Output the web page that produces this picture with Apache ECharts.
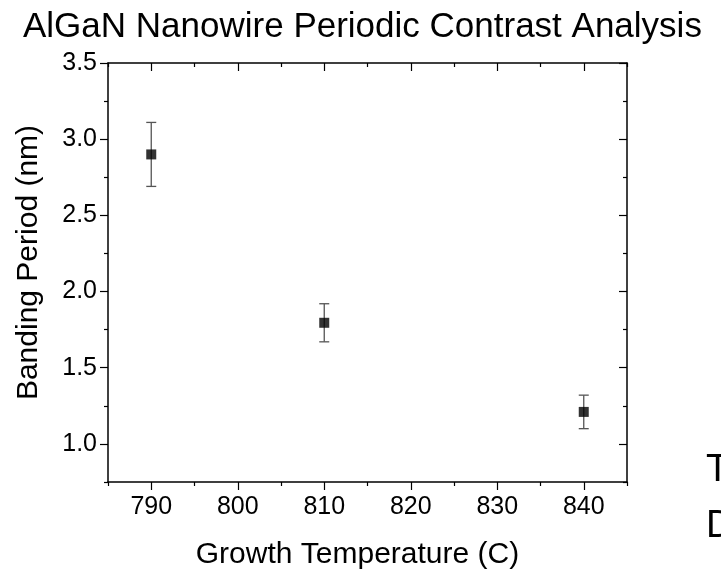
<!DOCTYPE html>
<html><head><meta charset="utf-8">
<script src="https://cdn.jsdelivr.net/npm/echarts@6/dist/echarts.min.js"></script>
<style>html,body{margin:0;padding:0;background:#fff}#c{width:721px;height:584px}</style>
</head><body><div id="c"></div>
<script>
const chartTitle = 'AlGaN Nanowire Periodic Contrast Analysis';
const xName = 'Growth Temperature (C)';
const yName = 'Banding Period (nm)';
const temperatures = [790, 810, 840];
const bandingPeriod = [2.90, 1.795, 1.21];
const errLow = [2.69, 1.67, 1.10];
const errHigh = [3.11, 1.92, 1.32];
const xMajorTicks = [790, 800, 810, 820, 830, 840];
const xMinorTicks = [785, 795, 805, 815, 825, 835, 845];
const yMajorTicks = [1.0, 1.5, 2.0, 2.5, 3.0, 3.5];
const yMinorTicks = [0.75, 1.25, 1.75, 2.25, 2.75, 3.25];
const cutTexts = ['T', 'D'];

const FONT = 'Liberation Sans, Arial, sans-serif';
function axis(dir, pos, ticks, len, inside, withLine, withLabels, extra) {
  const isX = dir === 'x';
  const a = {
    type: 'value', gridIndex: 0, position: pos,
    min: isX ? 785 : 0.75, max: isX ? 845 : 3.5, interval: isX ? 5 : 0.25,
    axisLine: { show: withLine, onZero: false, lineStyle: { color: '#000', width: 1.5 } },
    axisTick: { show: true, inside: inside, length: len, customValues: ticks, lineStyle: { color: '#000', width: 1.2 } },
    splitLine: { show: false },
    axisLabel: withLabels ? {
      show: true, customValues: ticks, margin: isX ? 13 : 11,
      fontFamily: FONT, fontSize: 25, color: '#000',
      formatter: v => isX ? String(v) : v.toFixed(1)
    } : { show: false }
  };
  return Object.assign(a, extra || {});
}

const chart = echarts.init(document.getElementById('c'), null, { renderer: 'canvas' });
chart.setOption({
  animation: false,
  backgroundColor: '#fff',
  title: { text: chartTitle, left: 18, top: 5, textStyle: { fontFamily: FONT, fontSize: 35, fontWeight: 'normal', color: '#000' } },
  grid: { left: 108, top: 63, right: 94, bottom: 102, containLabel: false },
  xAxis: [
    axis('x', 'bottom', xMajorTicks, 8, false, true, true, {
      name: xName, nameLocation: 'middle', nameGap: 58,
      nameTextStyle: { fontFamily: FONT, fontSize: 30, color: '#000', padding: [0, 20, 0, 0] }
    }),
    axis('x', 'bottom', xMinorTicks, 4, false, false, false),
    axis('x', 'top', xMajorTicks, 8, true, true, false),
    axis('x', 'top', xMinorTicks, 4, true, false, false)
  ],
  yAxis: [
    axis('y', 'left', yMajorTicks, 8, false, true, true, {
      name: yName, nameLocation: 'middle', nameGap: 64,
      nameTextStyle: { fontFamily: FONT, fontSize: 30, color: '#000', padding: [0, 0, 0, 20] }
    }),
    axis('y', 'left', yMinorTicks, 4, false, false, false),
    axis('y', 'right', yMajorTicks, 8, true, true, false),
    axis('y', 'right', yMinorTicks, 4, true, false, false)
  ],
  graphic: cutTexts.map((t, i) => ({
    type: 'text', left: 706, top: 452 + i * 56,
    style: { text: t, fontFamily: FONT, fontSize: 38, fill: '#000' }
  })),
  series: [
    {
      type: 'custom', xAxisIndex: 0, yAxisIndex: 0, z: 1,
      data: temperatures.map((t, i) => [t, errLow[i], errHigh[i]]),
      encode: { x: 0, y: [1, 2] },
      renderItem: function (params, api) {
        const x = api.value(0);
        const pLo = api.coord([x, api.value(1)]);
        const pHi = api.coord([x, api.value(2)]);
        const hw = 5;
        const st = { stroke: '#555', lineWidth: 1.3 };
        return {
          type: 'group', children: [
            { type: 'line', shape: { x1: pLo[0], y1: pLo[1], x2: pHi[0], y2: pHi[1] }, style: st },
            { type: 'line', shape: { x1: pLo[0] - hw, y1: pLo[1], x2: pLo[0] + hw, y2: pLo[1] }, style: st },
            { type: 'line', shape: { x1: pHi[0] - hw, y1: pHi[1], x2: pHi[0] + hw, y2: pHi[1] }, style: st }
          ]
        };
      }
    },
    {
      type: 'scatter', xAxisIndex: 0, yAxisIndex: 0, z: 3,
      symbol: 'rect', symbolSize: 10,
      itemStyle: { color: '#000' },
      data: temperatures.map((t, i) => [t, bandingPeriod[i]])
    }
  ]
});
</script>
</body></html>
